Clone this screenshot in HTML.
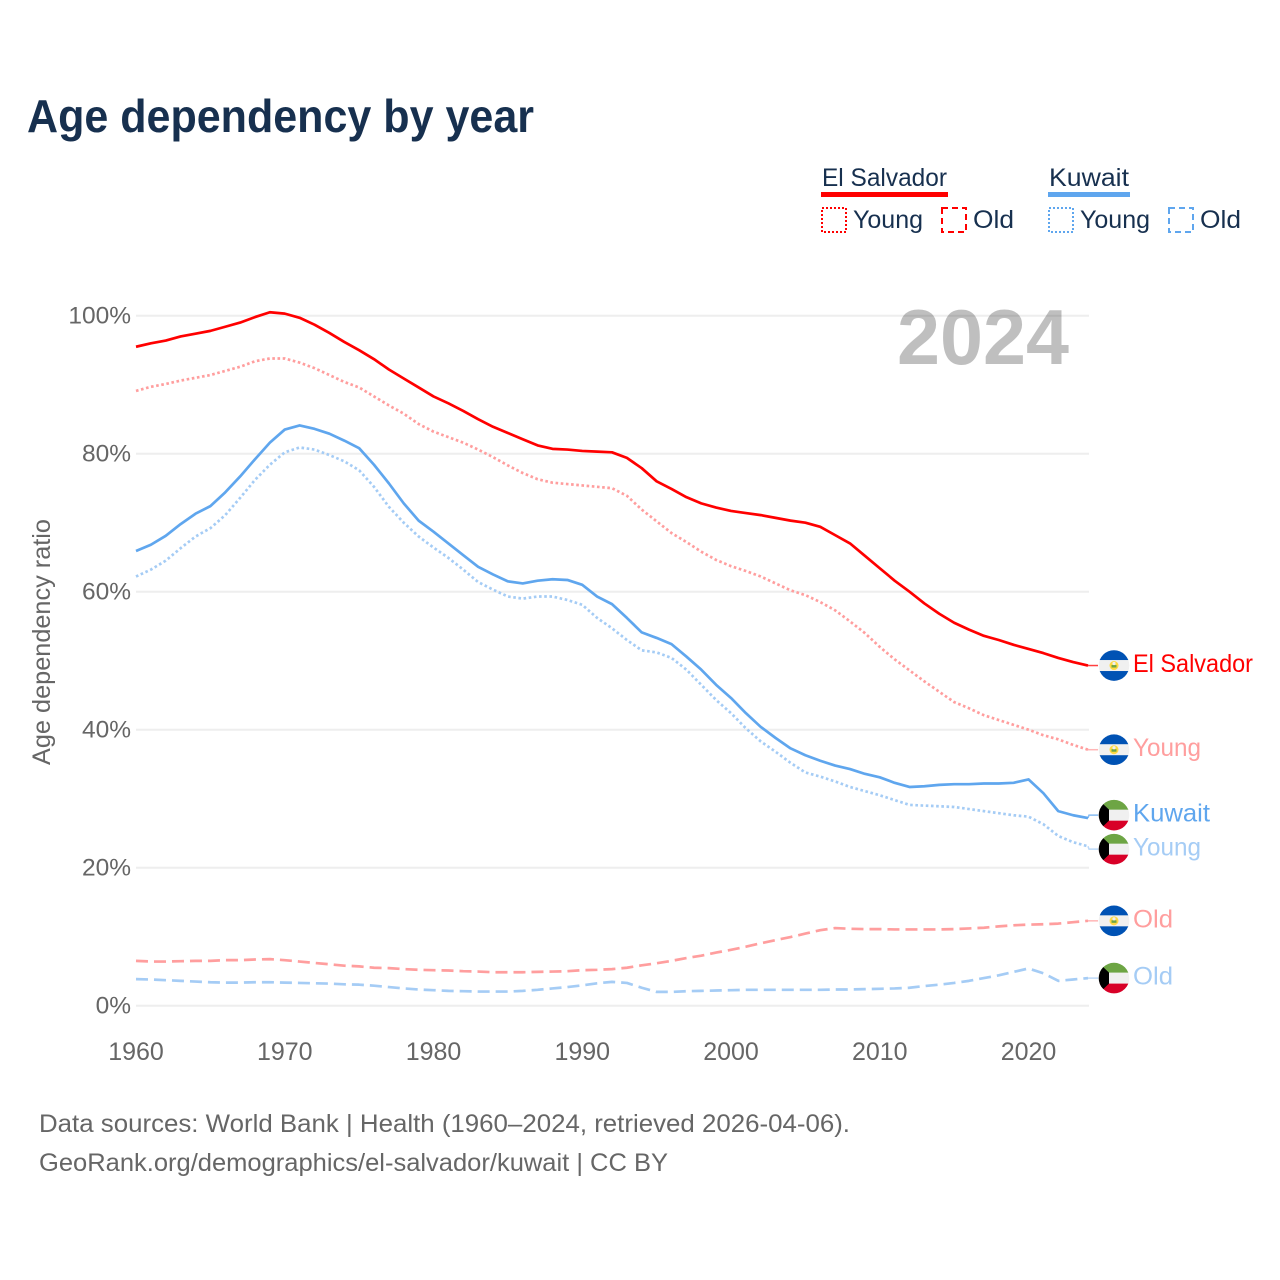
<!DOCTYPE html>
<html lang="en">
<head>
<meta charset="utf-8">
<title>Age dependency by year</title>
<style>
html,body{margin:0;padding:0;background:#fff;}
svg{display:block;font-family:"Liberation Sans",sans-serif;}
</style>
</head>
<body>
<svg id="chart" width="1280" height="1280" viewBox="0 0 1280 1280" xmlns="http://www.w3.org/2000/svg">
  <rect x="0" y="0" width="1280" height="1280" fill="#fff"/>
  <text x="27" y="132" font-size="46" font-weight="700" fill="#17304f" textLength="507" lengthAdjust="spacingAndGlyphs">Age dependency by year</text>

  <g>
    <text x="822" y="186" font-size="25" fill="#17304f" textLength="125" lengthAdjust="spacingAndGlyphs">El Salvador</text>
    <rect x="821" y="192" width="127" height="5" fill="#ff0000"/>
    <text x="1049" y="186" font-size="25" fill="#17304f" textLength="80" lengthAdjust="spacingAndGlyphs">Kuwait</text>
    <rect x="1048" y="192" width="82" height="5" fill="#5fa6ee"/>

    <rect x="822" y="208" width="24" height="24" fill="none" stroke="#ff0000" stroke-width="2" stroke-dasharray="2 2"/>
    <text x="853" y="228" font-size="25" fill="#17304f" textLength="70" lengthAdjust="spacingAndGlyphs">Young</text>
    <rect x="942" y="208" width="24" height="24" fill="none" stroke="#ff0000" stroke-width="2" stroke-dasharray="6 4"/>
    <text x="973" y="228" font-size="25" fill="#17304f" textLength="41" lengthAdjust="spacingAndGlyphs">Old</text>

    <rect x="1049" y="208" width="24" height="24" fill="none" stroke="#5fa6ee" stroke-width="2" stroke-dasharray="2 2"/>
    <text x="1080" y="228" font-size="25" fill="#17304f" textLength="70" lengthAdjust="spacingAndGlyphs">Young</text>
    <rect x="1169" y="208" width="24" height="24" fill="none" stroke="#5fa6ee" stroke-width="2" stroke-dasharray="6 4"/>
    <text x="1200" y="228" font-size="25" fill="#17304f" textLength="41" lengthAdjust="spacingAndGlyphs">Old</text>
  </g>

  <g id="grid"></g>
  <text x="897" y="364" font-size="78" font-weight="700" fill="#000" fill-opacity="0.25" textLength="172" lengthAdjust="spacingAndGlyphs">2024</text>
  <g id="y-ticks"></g>
  <g id="x-ticks"></g>
  <text transform="translate(50 642) rotate(-90)" text-anchor="middle" font-size="25" fill="#666" textLength="246" lengthAdjust="spacingAndGlyphs">Age dependency ratio</text>
  <g id="series"></g>
  <g id="labels"></g>

  <text x="39" y="1132" font-size="25" fill="#666" textLength="811" lengthAdjust="spacingAndGlyphs">Data sources: World Bank | Health (1960–2024, retrieved 2026-04-06).</text>
  <text x="39" y="1171" font-size="25" fill="#666" textLength="629" lengthAdjust="spacingAndGlyphs">GeoRank.org/demographics/el-salvador/kuwait | CC BY</text>
</svg>
<script>
const startYear = 1960;
const xTickYears = [1960, 1970, 1980, 1990, 2000, 2010, 2020];
const yTickValues = [0, 20, 40, 60, 80, 100];

const elSalvadorTotal = [95.5,96,96.4,97,97.4,97.8,98.4,99,99.8,100.5,100.3,99.7,98.7,97.5,96.2,95,93.7,92.2,90.9,89.6,88.3,87.3,86.2,85,83.9,83,82.1,81.2,80.7,80.6,80.4,80.3,80.2,79.4,77.9,76,74.9,73.7,72.8,72.2,71.7,71.4,71.1,70.7,70.3,70,69.4,68.2,67,65.2,63.4,61.6,60,58.3,56.8,55.5,54.5,53.6,53,52.3,51.7,51.1,50.4,49.8,49.3];
const elSalvadorYoung = [89.1,89.7,90.1,90.6,91,91.4,92,92.6,93.4,93.8,93.8,93.2,92.4,91.4,90.4,89.6,88.3,87,85.8,84.3,83.2,82.4,81.6,80.6,79.5,78.3,77.2,76.3,75.8,75.6,75.4,75.2,75,73.9,71.9,70.2,68.5,67.2,65.8,64.6,63.7,63,62.2,61.2,60.2,59.5,58.5,57.3,55.7,54,52,50.2,48.6,47,45.5,44,43.1,42.1,41.4,40.7,40,39.2,38.6,37.8,37.1];
const elSalvadorOld = [6.5,6.4,6.4,6.45,6.5,6.5,6.6,6.6,6.7,6.75,6.6,6.4,6.2,6,5.8,5.7,5.5,5.45,5.3,5.2,5.15,5.1,5,4.95,4.85,4.85,4.85,4.9,4.95,5,5.15,5.2,5.3,5.5,5.85,6.15,6.5,6.9,7.25,7.7,8.1,8.55,9.05,9.5,9.95,10.45,10.95,11.25,11.15,11.1,11.1,11.05,11.05,11.05,11.05,11.1,11.2,11.3,11.5,11.65,11.75,11.8,11.9,12.1,12.3];
const kuwaitTotal = [65.9,66.8,68.1,69.8,71.3,72.4,74.4,76.7,79.2,81.6,83.5,84.1,83.6,82.9,81.9,80.8,78.4,75.7,72.8,70.3,68.7,67,65.3,63.6,62.5,61.5,61.2,61.6,61.8,61.7,61,59.3,58.2,56.2,54.1,53.3,52.4,50.6,48.7,46.5,44.6,42.4,40.4,38.8,37.3,36.3,35.5,34.8,34.3,33.6,33.1,32.3,31.7,31.8,32,32.1,32.1,32.2,32.2,32.3,32.8,30.8,28.2,27.6,27.2];
const kuwaitYoung = [62.2,63.2,64.5,66.3,68,69.2,71.1,73.6,76.2,78.4,80.2,80.9,80.6,79.8,78.9,77.6,75.2,72.3,70,68,66.4,64.9,63.2,61.4,60.3,59.3,59,59.3,59.3,58.8,58.1,56.2,54.7,53,51.5,51.2,50.4,48.7,46.5,44.3,42.4,40.2,38.3,36.8,35.2,33.8,33.2,32.5,31.7,31.1,30.5,29.8,29.1,29,28.9,28.8,28.5,28.2,27.9,27.6,27.4,26.3,24.6,23.7,23.1];
const kuwaitOld = [3.85,3.8,3.7,3.6,3.5,3.4,3.35,3.35,3.4,3.4,3.35,3.3,3.25,3.2,3.1,3.05,2.9,2.7,2.5,2.35,2.25,2.15,2.1,2.05,2.05,2.05,2.15,2.3,2.5,2.7,2.95,3.25,3.45,3.3,2.6,2,2,2.1,2.15,2.2,2.25,2.3,2.3,2.3,2.3,2.3,2.3,2.35,2.35,2.4,2.45,2.5,2.6,2.85,3.05,3.3,3.6,4,4.4,4.9,5.4,4.7,3.6,3.8,4];

const NS = 'http://www.w3.org/2000/svg';
function xScale(year) { return 136 + (year - 1960) * 14.875; }
function yScale(v) { return 1005.7 - v * 6.9; }
function make(parent, tag, attrs) {
  const el = document.createElementNS(NS, tag);
  for (const k in attrs) el.setAttribute(k, attrs[k]);
  parent.appendChild(el);
  return el;
}

const gridG = document.getElementById('grid');
const yTickG = document.getElementById('y-ticks');
yTickValues.forEach(function (v) {
  const line = make(gridG, 'line', {x1: 136, x2: 1089, y1: yScale(v), y2: yScale(v), stroke: '#eeeeee', 'stroke-width': 2});
  
  
  const t = make(yTickG, 'text', {x: 131, y: yScale(v) + 8, 'text-anchor': 'end', 'font-size': 24.5, fill: '#666'});
  t.textContent = v + '%';
  
  
});

const xTickG = document.getElementById('x-ticks');
xTickYears.forEach(function (yr) {
  const t = make(xTickG, 'text', {x: xScale(yr), y: 1060, 'text-anchor': 'middle', 'font-size': 25, fill: '#666'});
  t.textContent = String(yr);
  
  
});

const seriesList = [
  {id: 'el-salvador-total', values: elSalvadorTotal, label: 'El Salvador', color: '#ff0000', dash: '', flag: 'sv', w: 120},
  {id: 'el-salvador-young', values: elSalvadorYoung, label: 'Young', color: '#ff9e9e', dash: '2.6 2.6', flag: 'sv', w: 68},
  {id: 'kuwait-total', values: kuwaitTotal, label: 'Kuwait', color: '#5fa6ee', dash: '', flag: 'kw', w: 77},
  {id: 'kuwait-young', values: kuwaitYoung, label: 'Young', color: '#a5ccf5', dash: '2.6 2.6', flag: 'kw', w: 68},
  {id: 'el-salvador-old', values: elSalvadorOld, label: 'Old', color: '#ff9e9e', dash: '12 6', flag: 'sv', w: 40},
  {id: 'kuwait-old', values: kuwaitOld, label: 'Old', color: '#a5ccf5', dash: '12 6', flag: 'kw', w: 40}
];

// End-label placement: start at the line end, then push overlapping labels apart.
const MIN_GAP = 34;
const placed = seriesList.map(function (s) {
  return {s: s, ly: yScale(s.values[s.values.length - 1]), end: yScale(s.values[s.values.length - 1])};
}).sort(function (a, b) { return a.ly - b.ly; });
for (let pass = 0; pass < 10; pass++) {
  for (let i = 0; i < placed.length - 1; i++) {
    const gap = placed[i + 1].ly - placed[i].ly;
    if (gap < MIN_GAP) {
      const shift = (MIN_GAP - gap) / 2;
      placed[i].ly -= shift;
      placed[i + 1].ly += shift;
    }
  }
}

const seriesG = document.getElementById('series');
seriesList.forEach(function (s) {
  const d = s.values.map(function (v, i) {
    return (i ? 'L' : 'M') + xScale(startYear + i).toFixed(2) + ' ' + yScale(v).toFixed(2);
  }).join(' ');
  const attrs = {d: d, fill: 'none', stroke: s.color, 'stroke-width': 2.7, 'stroke-linejoin': 'round'};
  if (s.dash) attrs['stroke-dasharray'] = s.dash;
  const path = make(seriesG, 'path', attrs);
  
  
});

const labelsG = document.getElementById('labels');
placed.forEach(function (p) {
  const s = p.s, cy = p.ly, cx = 1114, lastX = xScale(startYear + s.values.length - 1);
  const conn = make(labelsG, 'path', {d: 'M' + lastX + ' ' + p.end + ' L' + (lastX + 1) + ' ' + cy + ' L1098 ' + cy, fill: 'none', stroke: s.color, 'stroke-width': 1.5, opacity: 0.75});
  
  

  const flag = make(labelsG, 'g', {});
  
  
  const clipId = 'clip-' + s.id;
  const clip = make(flag, 'clipPath', {id: clipId});
  make(clip, 'circle', {cx: cx, cy: cy, r: 15.3});
  const inner = make(flag, 'g', {'clip-path': 'url(#' + clipId + ')'});
  make(inner, 'rect', {x: cx - 16, y: cy - 16, width: 32, height: 32, fill: '#f0f0f0'});
  if (s.flag === 'sv') {
    make(inner, 'rect', {x: cx - 16, y: cy - 16, width: 32, height: 10.5, fill: '#0052b4'});
    make(inner, 'rect', {x: cx - 16, y: cy + 5.5, width: 32, height: 10.5, fill: '#0052b4'});
    make(inner, 'circle', {cx: cx, cy: cy, r: 4.5, fill: '#ffda44'});
    make(inner, 'rect', {x: cx - 2.5, y: cy - 0.5, width: 5, height: 2.5, fill: '#6da544'});
    make(inner, 'circle', {cx: cx, cy: cy - 2, r: 1.6, fill: '#f0f0f0'});
  } else {
    make(inner, 'rect', {x: cx - 16, y: cy - 16, width: 32, height: 10.5, fill: '#6da544'});
    make(inner, 'rect', {x: cx - 16, y: cy + 5.5, width: 32, height: 10.5, fill: '#d80027'});
    const pts = [[-16, -16], [-5, -5.5], [-5, 5.5], [-16, 16]].map(function (q) { return (cx + q[0]) + ',' + (cy + q[1]); }).join(' ');
    make(inner, 'polygon', {points: pts, fill: '#000000'});
  }

  const t = make(labelsG, 'text', {x: 1133, y: cy + 6.5, 'font-size': 25, fill: s.color, textLength: s.w, lengthAdjust: 'spacingAndGlyphs'});
  t.textContent = s.label;
  
  
});
</script>
</body>
</html>
